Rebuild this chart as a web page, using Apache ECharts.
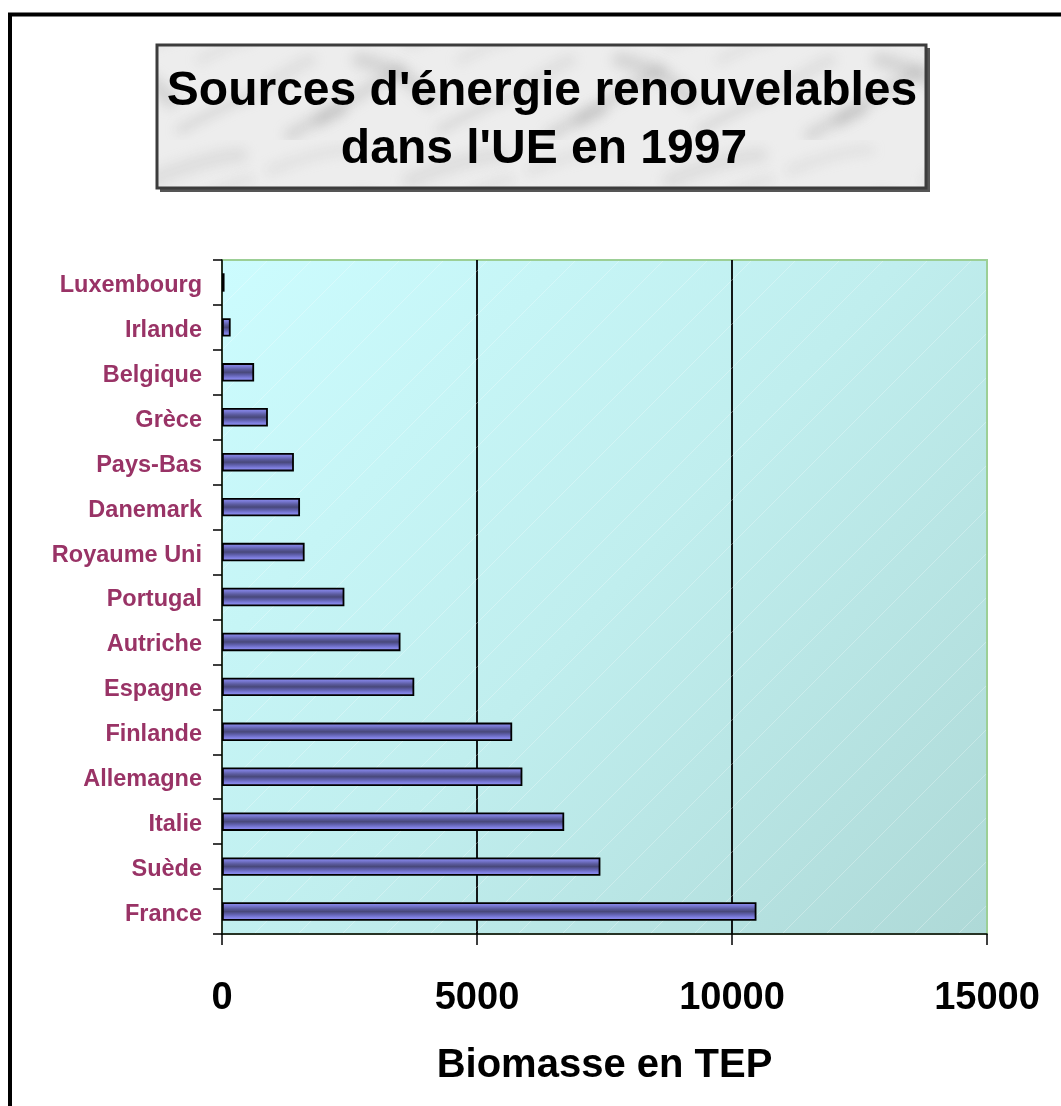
<!DOCTYPE html>
<html>
<head>
<meta charset="utf-8">
<title>Sources d'énergie renouvelables dans l'UE en 1997</title>
<script src="https://cdn.jsdelivr.net/npm/echarts@6/dist/echarts.min.js"></script>
<style>
  html, body { margin: 0; padding: 0; background: #ffffff; }
  #chart { width: 1061px; height: 1106px; }
</style>
</head>
<body>
<div id="chart"></div>
<script>
// Biomass energy production per EU country, 1997 (tonnes équivalent pétrole)
const countries = ['France', 'Suède', 'Italie', 'Allemagne', 'Finlande', 'Espagne', 'Autriche',
  'Portugal', 'Royaume Uni', 'Danemark', 'Pays-Bas', 'Grèce', 'Belgique', 'Irlande', 'Luxembourg'];
const biomasse = [10480, 7420, 6710, 5890, 5690, 3770, 3500,
  2400, 1620, 1530, 1410, 900, 630, 170, 50];
const titleLines = ["Sources d'énergie renouvelables", "dans l'UE en 1997"];
const axisName = 'Biomasse en TEP';
const xTicks = { min: 0, max: 15000, step: 5000 };

const FONT = '"Liberation Sans", Arial, Helvetica, sans-serif';
const W = 1061, H = 1106;
const grid = { left: 222, top: 260, right: 74, bottom: 172 };
const gw = W - grid.left - grid.right, gh = H - grid.top - grid.bottom;

// faint diagonal hatch over the plot wall
function hatchPattern() {
  const c = document.createElement('canvas');
  const s = 44;
  c.width = s; c.height = s;
  const g = c.getContext('2d');
  g.strokeStyle = 'rgba(255,255,255,0.28)';
  g.lineWidth = 1;
  g.beginPath();
  g.moveTo(-2, s + 2); g.lineTo(s + 2, -2);
  g.stroke();
  return c;
}

// light marble-like backdrop for the title panel
function marblePattern() {
  const c = document.createElement('canvas');
  c.width = 260; c.height = 140;
  const g = c.getContext('2d');
  g.fillStyle = '#ededed';
  g.fillRect(0, 0, 260, 140);
  const veins = [
    [10, 30, 90, 10], [60, 120, 140, 70], [150, 40, 240, 15], [180, 130, 255, 95],
    [0, 90, 50, 60], [100, 60, 170, 100], [200, 60, 250, 40], [30, 135, 80, 110]
  ];
  g.lineCap = 'round';
  g.filter = 'blur(6px)';
  veins.forEach(function (v, i) {
    g.strokeStyle = i % 2 ? 'rgba(160,160,160,0.30)' : 'rgba(180,180,180,0.25)';
    g.lineWidth = 8 + (i % 3) * 4;
    g.beginPath();
    g.moveTo(v[0], v[1]);
    g.quadraticCurveTo((v[0] + v[2]) / 2 + 12, (v[1] + v[3]) / 2 - 10, v[2], v[3]);
    g.stroke();
  });
  g.filter = 'none';
  return c;
}

const chart = echarts.init(document.getElementById('chart'), null, { renderer: 'canvas' });

const barFill = new echarts.graphic.LinearGradient(0, 0, 0, 1, [
  { offset: 0.00, color: '#9494f4' },
  { offset: 0.18, color: '#7a7ad6' },
  { offset: 0.36, color: '#5a5a9c' },
  { offset: 0.50, color: '#48487a' },
  { offset: 0.64, color: '#5e5eaa' },
  { offset: 0.82, color: '#8080e2' },
  { offset: 1.00, color: '#9a9afa' }
]);

chart.setOption({
  animation: false,
  backgroundColor: '#ffffff',
  grid: {
    left: grid.left, top: grid.top, right: grid.right, bottom: grid.bottom,
    show: true,
    borderColor: '#9ccf96',
    borderWidth: 2,
    backgroundColor: new echarts.graphic.LinearGradient(0, 0, 1, 1, [
      { offset: 0, color: '#ccfcfe' },
      { offset: 0.5, color: '#c0eeee' },
      { offset: 1, color: '#aed9d7' }
    ])
  },
  xAxis: {
    type: 'value',
    min: xTicks.min, max: xTicks.max, interval: xTicks.step,
    name: axisName,
    nameLocation: 'middle',
    nameGap: 112,
    nameTextStyle: { fontFamily: FONT, fontWeight: 'bold', fontSize: 40, color: '#000' },
    axisLine: { show: true, lineStyle: { color: '#000', width: 1.5 } },
    axisTick: { show: true, length: 11, lineStyle: { color: '#000', width: 1.5 } },
    axisLabel: {
      margin: 46, fontFamily: FONT, fontWeight: 'bold', fontSize: 38, color: '#000',
      formatter: function (v) { return String(v); }
    },
    splitLine: { show: true, showMinLine: false, showMaxLine: false, lineStyle: { color: '#000', width: 1.8 } }
  },
  yAxis: {
    type: 'category',
    data: countries,
    axisLine: { show: true, lineStyle: { color: '#000', width: 1.5 } },
    axisTick: { show: true, length: 9, lineStyle: { color: '#000', width: 1.5 } },
    axisLabel: {
      margin: 20,
      formatter: function (v) { return '{c|' + v + '}'; },
      rich: {
        c: {
          padding: [6, 0, 0, 0],
          fontFamily: FONT, fontWeight: 'bold', fontSize: 23.5, color: '#993366'
        }
      }
    },
    splitLine: { show: false }
  },
  series: [{
    type: 'bar',
    data: biomasse,
    barWidth: '41%',
    z: 3,
    itemStyle: { color: barFill, borderColor: '#000', borderWidth: 1.8 }
  }],
  graphic: [
    // hatch overlay on the plot wall
    {
      type: 'rect', z: 1, silent: true,
      shape: { x: grid.left + 1, y: grid.top + 1, width: gw - 2, height: gh - 2 },
      style: { fill: { image: hatchPattern(), repeat: 'repeat' } }
    },
    // outer frame
    {
      type: 'rect', z: 10, silent: true,
      shape: { x: 10, y: 14.5, width: 1200, height: 1200 },
      style: { fill: null, stroke: '#000', lineWidth: 4 }
    },
    // title panel shadow
    {
      type: 'rect', z: 10, silent: true,
      shape: { x: 160, y: 48, width: 770, height: 144 },
      style: { fill: '#555555' }
    },
    // title panel
    {
      type: 'rect', z: 11, silent: true,
      shape: { x: 157, y: 45, width: 769, height: 143 },
      style: { fill: { image: marblePattern(), repeat: 'repeat' }, stroke: '#3c3c3c', lineWidth: 3 }
    },
    {
      type: 'text', z: 12, silent: true,
      x: 542, y: 92,
      style: {
        text: titleLines[0], fill: '#000',
        font: 'bold 48px ' + FONT, align: 'center', verticalAlign: 'middle'
      }
    },
    {
      type: 'text', z: 12, silent: true,
      x: 544, y: 150,
      style: {
        text: titleLines[1], fill: '#000',
        font: 'bold 48px ' + FONT, align: 'center', verticalAlign: 'middle'
      }
    }
  ]
});
</script>
</body>
</html>
